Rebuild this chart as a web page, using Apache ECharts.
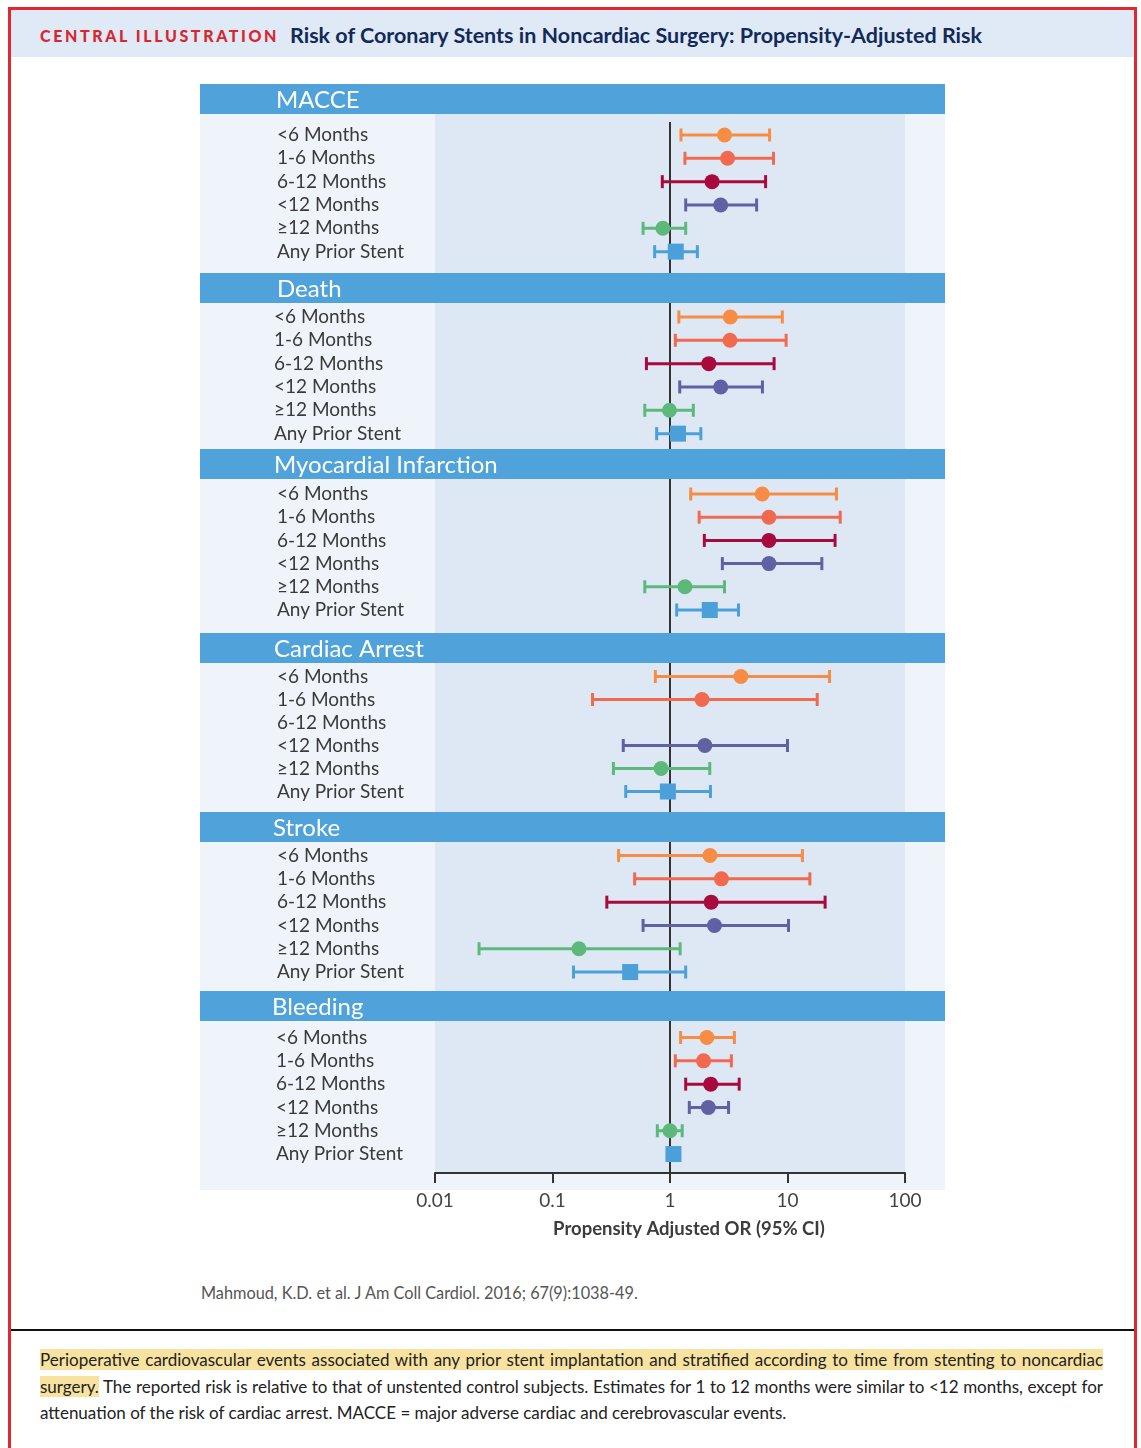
<!DOCTYPE html>
<html>
<head>
<meta charset="utf-8">
<title>Risk of Coronary Stents in Noncardiac Surgery</title>
<script src="https://cdn.jsdelivr.net/npm/echarts@6/dist/echarts.min.js"></script>
<style>
  html, body { margin: 0; padding: 0; background: #fff; }
  body { width: 1141px; height: 1448px; position: relative; overflow: hidden; font-family: Lato, "Open Sans", sans-serif; }
  #frame { position: absolute; left: 8px; top: 7px; width: 1123px; height: 1470px; border: 3px solid #e0282f; box-sizing: content-box; }
  #band { position: absolute; left: 11px; top: 10px; width: 1123px; height: 47px; background: #dfeaf6; }
  #kicker { position: absolute; left: 40px; top: 26px; font-weight: 900; font-size: 16px; letter-spacing: 2.6px; color: #d9262e; line-height: 20px; white-space: nowrap; }
  #title { position: absolute; left: 290px; top: 22px; font-weight: 700; font-size: 21.5px; color: #13295a; line-height: 26px; white-space: nowrap; }
  #chart { position: absolute; left: 0; top: 0; width: 1141px; height: 1260px; }
  #cite { position: absolute; left: 201px; top: 1283px; font-size: 16.3px; color: #555; line-height: 20px; white-space: nowrap; }
  #rule { position: absolute; left: 11px; top: 1329px; width: 1123px; height: 2px; background: #111; }
  #caption { position: absolute; left: 40px; top: 1347px; width: 1063px; font-size: 17px; line-height: 26.5px; color: #222; text-align: justify; }
  #caption .hl { background: #f8e2a0; }
</style>
</head>
<body>
<div id="band"></div>
<div id="frame"></div>
<div id="kicker">CENTRAL ILLUSTRATION</div>
<div id="title">Risk of Coronary Stents in Noncardiac Surgery: Propensity-Adjusted Risk</div>
<div id="chart"></div>
<div id="cite">Mahmoud, K.D. et al. J Am Coll Cardiol. 2016; 67(9):1038-49.</div>
<div id="rule"></div>
<div id="caption"><span class="hl">Perioperative cardiovascular events associated with any prior stent implantation and stratified according to time from stenting to noncardiac surgery.</span> The reported risk is relative to that of unstented control subjects. Estimates for 1 to 12 months were similar to &lt;12 months, except for attenuation of the risk of cardiac arrest. MACCE = major adverse cardiac and cerebrovascular events.</div>

<script>
// ---- data ----
const outcomeNames = ['MACCE', 'Death', 'Myocardial Infarction', 'Cardiac Arrest', 'Stroke', 'Bleeding'];
const rowLabels = ['<6 Months', '1-6 Months', '6-12 Months', '<12 Months', '≥12 Months', 'Any Prior Stent'];
const tickLabels = ['0.01', '0.1', '1', '10', '100'];
const axisTitle = 'Propensity Adjusted OR (95% CI)';

// each row: [odds ratio, lower 95% CI, upper 95% CI]; null = not reported
const macceRows    = [[2.91, 1.24, 7.04], [3.09, 1.34, 7.60], [2.28, 0.86, 6.51], [2.70, 1.36, 5.46], [0.87, 0.59, 1.36], [1.12, 0.74, 1.71]];
const deathRows    = [[3.26, 1.19, 9.03], [3.24, 1.11, 9.73], [2.14, 0.63, 7.69], [2.70, 1.21, 6.12], [0.99, 0.61, 1.58], [1.17, 0.77, 1.83]];
const miRows       = [[6.09, 1.50, 26.1], [6.95, 1.77, 28.1], [6.95, 1.96, 25.4], [6.95, 2.79, 19.6], [1.34, 0.61, 2.91], [2.18, 1.14, 3.83]];
const arrestRows   = [[4.01, 0.75, 22.8], [1.87, 0.219, 17.9], null, [1.98, 0.40, 10.0], [0.84, 0.33, 2.18], [0.96, 0.42, 2.21]];
const strokeRows   = [[2.19, 0.365, 13.4], [2.74, 0.50, 15.5], [2.24, 0.29, 20.9], [2.39, 0.59, 10.2], [0.168, 0.0237, 1.22], [0.458, 0.151, 1.36]];
const bleedingRows = [[2.06, 1.23, 3.53], [1.93, 1.11, 3.33], [2.22, 1.36, 3.88], [2.12, 1.46, 3.15], [1.00, 0.78, 1.27], [1.07, 1.02, 1.12]];

const panels = [macceRows, deathRows, miRows, arrestRows, strokeRows, bleedingRows];

// ---- styling & layout ----
const rowColors = ['#f78d45', '#f16a4f', '#a80a3e', '#6061a5', '#5cb97b', '#4ba0da'];
const headerBlue = '#4fa3da';
const panelBg = '#eff4fa';
const plotBg = '#dde8f4';
const FONT = 'Lato';

const headerTops = [84, 273, 449, 633, 812, 991];
const headerH = 30;
const headerTextX = [276, 277, 274, 274, 273, 272];
const labelX = [277, 274, 277, 277, 277, 276];
const gridTops = [123.3, 305.3, 482.4, 665, 843.9, 1025.9];
const gridHeights = [140, 140, 139.2, 138, 139.8, 139.8];
const gridLeft = 435, gridWidth = 470;
const axisY = 1173;
const panelBottom = 1190;

const chart = echarts.init(document.getElementById('chart'), null, { renderer: 'canvas' });

function renderRow(params, api) {
  const row = api.value(3);
  const mid = api.coord([api.value(0), row]);
  const lo = api.coord([api.value(1), row]);
  const hi = api.coord([api.value(2), row]);
  const color = rowColors[row];
  const cap = 6.5;
  const stroke = { stroke: color, lineWidth: 3 };
  const children = [
    { type: 'line', shape: { x1: lo[0], y1: mid[1], x2: hi[0], y2: mid[1] }, style: stroke },
    { type: 'line', shape: { x1: lo[0], y1: mid[1] - cap, x2: lo[0], y2: mid[1] + cap }, style: stroke },
    { type: 'line', shape: { x1: hi[0], y1: mid[1] - cap, x2: hi[0], y2: mid[1] + cap }, style: stroke }
  ];
  if (row === rowLabels.length - 1) {
    children.push({ type: 'rect', shape: { x: mid[0] - 8, y: mid[1] - 8, width: 16, height: 16 }, style: { fill: color } });
  } else {
    children.push({ type: 'circle', shape: { cx: mid[0], cy: mid[1], r: 7.5 }, style: { fill: color } });
  }
  return { type: 'group', children: children };
}

const last = panels.length - 1;

chart.setOption({
  animation: false,
  grid: panels.map((_, i) => ({ left: gridLeft, width: gridWidth, top: gridTops[i], height: gridHeights[i] })),
  xAxis: panels.map((_, i) => ({
    type: 'log',
    logBase: 10,
    min: 0.01,
    max: 100,
    gridIndex: i,
    show: i === last,
    z: 3,
    offset: i === last ? axisY - (gridTops[i] + gridHeights[i]) : 0,
    axisLine: { show: true, lineStyle: { color: '#333', width: 2 } },
    axisTick: { show: true, inside: false, length: 10, lineStyle: { color: '#333', width: 2 } },
    minorTick: { show: false },
    splitLine: { show: false },
    axisLabel: {
      margin: 18,
      fontFamily: FONT,
      fontSize: 19,
      color: '#444',
      formatter: v => tickLabels[Math.round(Math.log10(v)) + 2]
    },
    name: i === last ? axisTitle : '',
    nameLocation: 'middle',
    nameGap: 47,
    nameTextStyle: { fontFamily: FONT, fontSize: 18.5, fontWeight: 'bold', color: '#3c3c3c', padding: [0, 0, 0, 38] }
  })),
  yAxis: panels.map((_, i) => ({
    type: 'category',
    data: rowLabels,
    inverse: true,
    gridIndex: i,
    z: 3,
    axisLine: { show: false },
    axisTick: { show: false },
    splitLine: { show: false },
    axisLabel: { interval: 0, align: 'left', margin: gridLeft - labelX[i], fontFamily: FONT, fontSize: 19, color: '#3a3a3a' }
  })),
  series: panels.map((rows, i) => ({
    type: 'custom',
    name: outcomeNames[i],
    xAxisIndex: i,
    yAxisIndex: i,
    z: 4,
    renderItem: renderRow,
    encode: { x: [0, 1, 2], y: 3 },
    data: rows.map((r, k) => r ? [r[0], r[1], r[2], k] : null).filter(Boolean)
  }))
});

// panel backgrounds, headers and the OR = 1 reference line, placed through the x scale
const px = v => chart.convertToPixel({ xAxisIndex: last }, v);
const xLo = px(0.01), xHi = px(100), xOne = px(1);
const elements = [];
outcomeNames.forEach((name, i) => {
  const top = headerTops[i] + headerH;
  const bottom = i < last ? headerTops[i + 1] : panelBottom;
  const plotBottom = i < last ? headerTops[i + 1] : axisY;
  elements.push({ type: 'rect', z: 0, shape: { x: 200, y: top, width: 745, height: bottom - top }, style: { fill: panelBg } });
  elements.push({ type: 'rect', z: 0, shape: { x: xLo, y: top, width: xHi - xLo, height: plotBottom - top }, style: { fill: plotBg } });
  elements.push({ type: 'rect', z: 5, shape: { x: 200, y: headerTops[i], width: 745, height: headerH }, style: { fill: headerBlue } });
  elements.push({ type: 'text', z: 6, x: headerTextX[i], y: headerTops[i] + headerH / 2 + 1,
    style: { text: name, fill: '#fff', font: '24px ' + FONT, textVerticalAlign: 'middle', verticalAlign: 'middle' } });
});
elements.push({ type: 'line', z: 1, shape: { x1: xOne, y1: 122, x2: xOne, y2: axisY + 10 }, style: { stroke: '#333', lineWidth: 2 } });
chart.setOption({ graphic: { elements: elements } });
</script>
</body>
</html>
